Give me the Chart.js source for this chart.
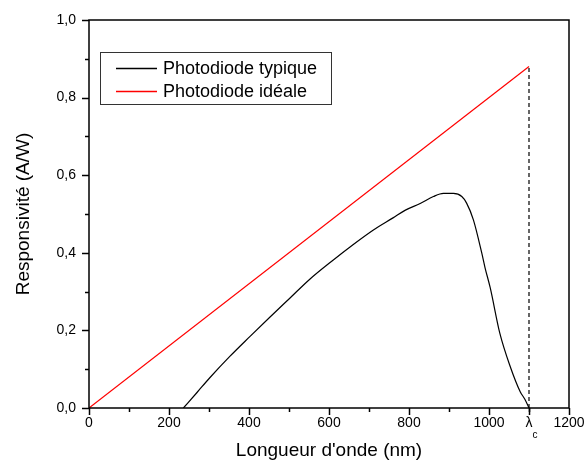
<!DOCTYPE html>
<html>
<head>
<meta charset="utf-8">
<script src="https://cdn.jsdelivr.net/npm/chart.js@4"></script>
<style>
html,body{margin:0;padding:0;background:#fff;}
#wrap{width:587px;height:466px;}
</style>
</head>
<body>
<div id="wrap"><canvas id="c" width="587" height="466"></canvas></div>
<script>
// ---- data ----
const typicalX = [236,270,302,352,402,452,502,552,610,660,711,760,791,828,861,886,911,932,944,961,982,990,1003,1027,1053,1078,1090,1100];
const typicalY = [0,0.040,0.078,0.133,0.184,0.234,0.283,0.332,0.381,0.421,0.459,0.49,0.51,0.527,0.545,0.553,0.553,0.545,0.528,0.485,0.399,0.362,0.31,0.193,0.107,0.042,0.022,0];
const idealX = [0,1100];
const idealY = [0,0.88];
const cutoffX = [1100,1100];
const cutoffY = [0,0.88];
const seriesLabels = ['Photodiode typique','Photodiode idéale'];
const xTickValues = [0,200,400,600,800,1000,1100,1200];
const xTickLabels = ['0','200','400','600','800','1000','λ','1200'];
const xTitle = "Longueur d'onde (nm)";
const yTitle = 'Responsivité (A/W)';

const FONT = "Arial, 'Liberation Sans', sans-serif";
const toPts = (xs, ys) => xs.map((x,i)=>({x:x,y:ys[i]}));

const framePlugin = {
  id:'frame',
  afterDraw(chart){
    const ctx = chart.ctx, a = chart.chartArea;
    const xs = chart.scales.x, ys = chart.scales.y;
    ctx.save();
    ctx.strokeStyle = '#000';
    ctx.lineWidth = 1.5;
    ctx.strokeRect(a.left, a.top, a.right-a.left, a.bottom-a.top);
    // x ticks
    for(let v=0; v<=1200; v+=100){
      const px = Math.round(xs.getPixelForValue(v))+0.5;
      const major = v%200===0;
      ctx.beginPath(); ctx.moveTo(px,a.bottom); ctx.lineTo(px,a.bottom+(major?7:4)); ctx.stroke();
    }
    // lambda tick + subscript
    {
      const px = Math.round(xs.getPixelForValue(1100))+0.5;
      ctx.beginPath(); ctx.moveTo(px,a.bottom); ctx.lineTo(px,a.bottom+7); ctx.stroke();
      ctx.fillStyle='#000';
      ctx.font = "10px "+FONT;
      ctx.textAlign='left'; ctx.textBaseline='alphabetic';
      ctx.fillText('c', px+3, a.bottom+30);
    }
    // y ticks
    for(let i=0;i<=10;i++){
      const v=i/10;
      const py = Math.round(ys.getPixelForValue(v))+0.5;
      const major = i%2===0;
      ctx.beginPath(); ctx.moveTo(a.left,py); ctx.lineTo(a.left-(major?7:4),py); ctx.stroke();
    }
    // legend
    const bx=100, by=52, bw=231, bh=52;
    ctx.lineWidth=1;
    ctx.strokeStyle='#333333';
    ctx.strokeRect(bx+0.5,by+0.5,bw,bh);
    const cols=['#000000','#ff0000'];
    ctx.font = "18px "+FONT;
    ctx.textAlign='left'; ctx.textBaseline='middle';
    seriesLabels.forEach((lab,i)=>{
      const yy = by+16+i*23;
      ctx.lineWidth=1.4;
      ctx.strokeStyle=cols[i];
      ctx.beginPath(); ctx.moveTo(116,yy+0.5); ctx.lineTo(157,yy+0.5); ctx.stroke();
      ctx.fillStyle='#000';
      ctx.fillText(lab,163,yy+1);
    });
    ctx.restore();
  }
};

new Chart(document.getElementById('c'),{
  type:'line',
  data:{
    datasets:[
      {label:seriesLabels[0], data:toPts(typicalX,typicalY), borderColor:'#000', borderWidth:1.2, pointRadius:0, cubicInterpolationMode:'monotone', fill:false},
      {label:seriesLabels[1], data:toPts(idealX,idealY), borderColor:'#ff0000', borderWidth:1.2, pointRadius:0, fill:false},
      {label:'cutoff', data:toPts(cutoffX,cutoffY), borderColor:'#000', borderWidth:1.2, borderDash:[4,3], pointRadius:0, fill:false}
    ]
  },
  options:{
    responsive:false, animation:false,
    layout:{padding:{top:20,right:18,left:0,bottom:0}},
    plugins:{legend:{display:false}, tooltip:{enabled:false}},
    scales:{
      x:{
        type:'linear', min:0, max:1200,
        afterBuildTicks(s){ s.ticks = xTickValues.map(v=>({value:v})); },
        afterFit(s){ s.height = 58; s.paddingLeft = 0; s.paddingRight = 0; },
        grid:{display:false, drawTicks:false},
        border:{display:false},
        ticks:{
          autoSkip:false, maxRotation:0, padding:7, color:'#000',
          font:{family:FONT,size:14},
          callback(v){ const i = xTickValues.indexOf(v); return i>=0 ? xTickLabels[i] : ''; }
        },
        title:{display:true, text:xTitle, color:'#000', font:{family:FONT,size:19}, padding:{top:0,bottom:4}}
      },
      y:{
        type:'linear', min:0, max:1,
        afterBuildTicks(s){ const t=[]; for(let i=0;i<=10;i+=2) t.push({value:i/10}); s.ticks=t; },
        afterFit(s){ s.width = 89; s.paddingTop = 0; s.paddingBottom = 0; },
        grid:{display:false, drawTicks:false},
        border:{display:false},
        ticks:{
          padding:13, color:'#000',
          font:{family:FONT,size:14},
          callback(v){ return v.toFixed(1).replace('.',','); }
        },
        title:{display:true, text:yTitle, color:'#000', font:{family:FONT,size:19}, padding:{top:12,bottom:0}}
      }
    }
  },
  plugins:[framePlugin]
});
</script>
</body>
</html>
